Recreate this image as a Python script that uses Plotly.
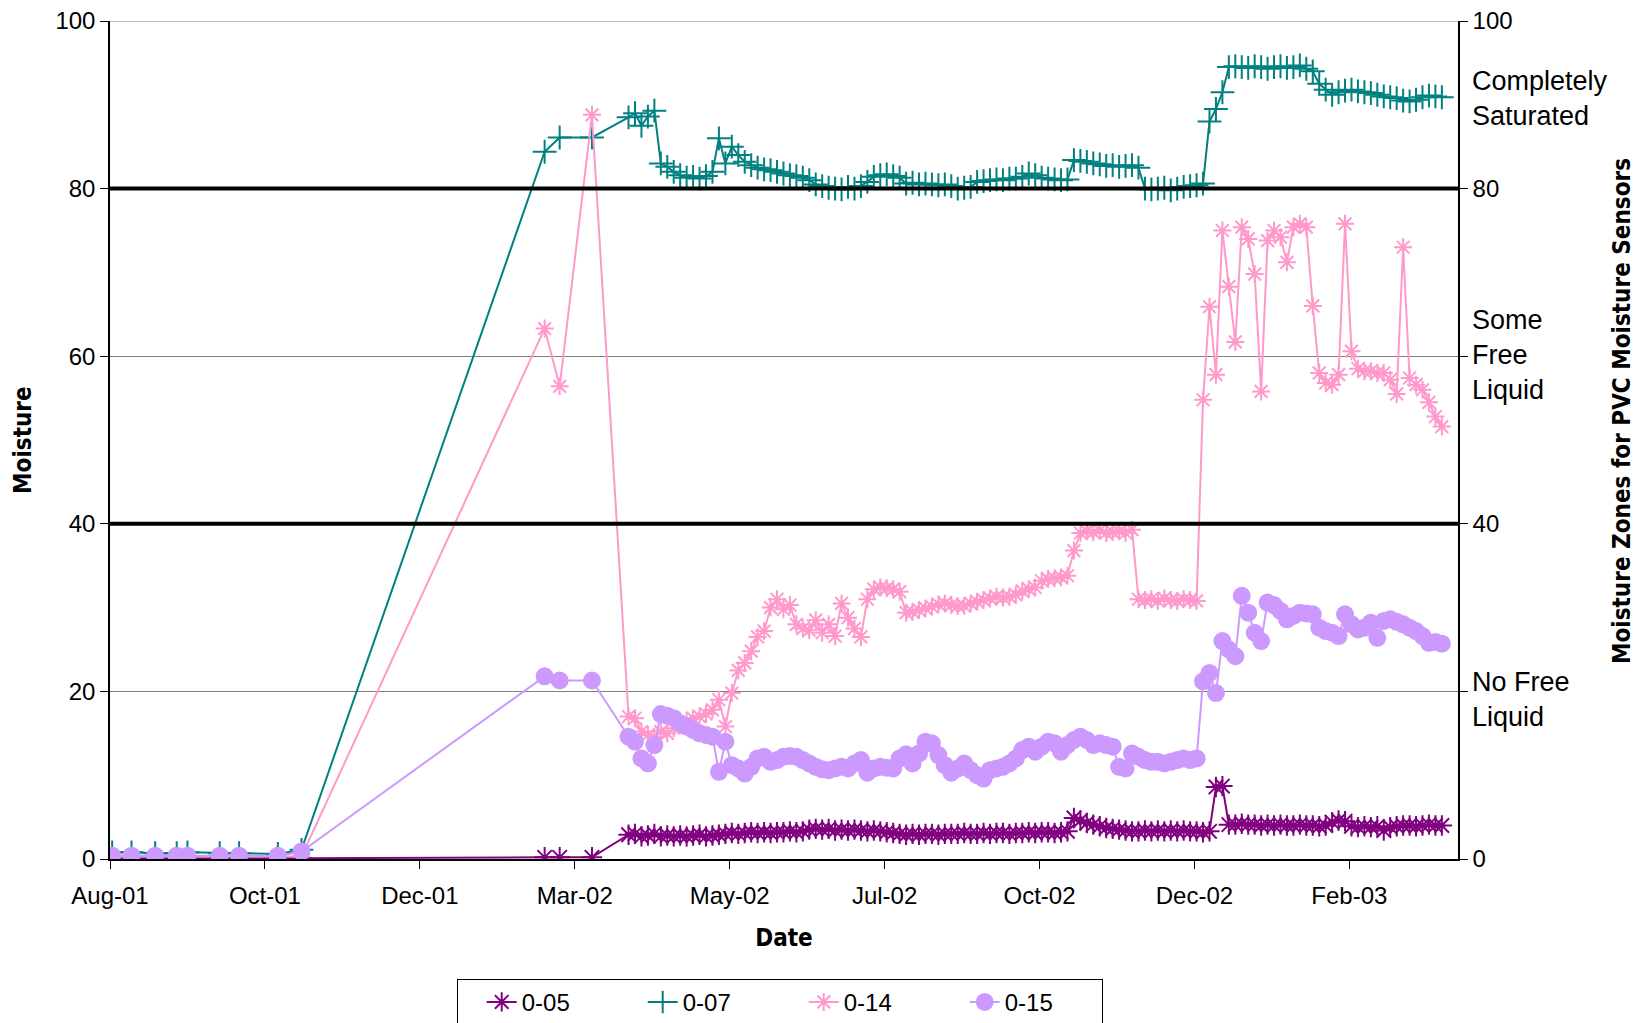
import pandas as pd
import plotly.graph_objects as go

# sparse readings before the loggers went continuous
early_dates = ["2001-08-02", "2001-08-11", "2001-08-22", "2001-09-01", "2001-09-06",
               "2001-09-21", "2001-09-30", "2001-10-18", "2001-10-29",
               "2002-02-19", "2002-02-26", "2002-03-13"]

# continuous logging from here, one reading kept every 3 days
dense_start = "2002-03-30"
dense_step = "3D"

sensors = ["0-05", "0-07", "0-14", "0-15"]

s05_early = [0.1, 0.1, 0.1, 0.1, 0.1, 0.1, 0.1, 0.1, 0.1, 0.2, 0.2, 0.2]
s05_dense = [
    2.9, 3.0, 2.7, 2.8, 3.0, 2.7, 2.8, 2.7, 2.8, 2.7, 2.8, 2.9, 2.7, 2.8,
    2.9, 3.0, 3.1, 3.0, 3.1, 3.2, 3.1, 3.2, 3.1, 3.2, 3.2, 3.3, 3.2, 3.3,
    3.5, 3.6, 3.5, 3.6, 3.4, 3.5, 3.4, 3.5, 3.4, 3.3, 3.4, 3.3, 3.2, 3.1,
    3.0, 2.9, 3.0, 2.9, 3.0, 3.0, 2.9, 3.0, 3.0, 3.0, 3.1, 3.0, 3.0, 3.1,
    3.0, 3.1, 3.1, 3.0, 3.1, 3.1, 3.2, 3.1, 3.2, 3.2, 3.1, 3.2, 3.3,
    4.9, 4.6, 4.3, 4.1, 3.9, 3.7, 3.6, 3.5, 3.4, 3.3, 3.3,
    3.4, 3.3, 3.4, 3.3, 3.4, 3.3, 3.4, 3.3, 3.3, 3.2, 3.3, 8.6, 8.7,
    4.1, 4.1, 4.2, 4.1, 4.1, 4.0, 4.1, 4.0, 4.1, 4.0, 4.0, 4.1, 4.0, 4.0,
    3.9, 4.0, 4.4, 4.6, 4.5, 3.9, 3.8, 3.9, 3.8, 3.9, 3.4, 3.8, 3.9, 4.0,
    4.0, 3.9, 4.0, 4.1, 4.0, 4.0,
]

s07_early = [0.8, 0.8, 0.7, 0.7, 0.8, 0.7, 0.7, 0.6, 1.1, 84.4, 86.1, 86.1]
s07_dense = [
    88.5, 89.0, 87.5, 88.6, 89.3, 83.0, 82.6, 82.0, 81.6, 81.3, 81.4, 81.2, 81.5, 82.0,
    86.0, 83.0, 85.0, 84.0, 83.2, 82.8, 82.5, 82.3, 82.2, 82.0, 81.8, 81.6, 81.5, 81.3,
    81.0, 80.5, 80.3, 80.1, 80.0, 79.9, 80.2, 80.0, 80.3, 80.8, 81.4, 81.6, 81.7, 81.5,
    81.3, 80.6, 80.7, 80.5, 80.6, 80.5, 80.4, 80.5, 80.3, 80.0, 80.1, 80.2, 80.8, 80.9,
    81.0, 81.1, 81.0, 81.2, 81.2, 81.4, 81.8, 81.6, 81.3, 81.2, 81.1, 81.0, 81.1,
    83.4, 83.3, 83.2, 83.0, 82.9, 82.7, 82.8, 82.6, 82.7, 82.8, 82.5,
    80.0, 79.9, 80.0, 80.1, 79.8, 80.0, 80.2, 80.3, 80.4, 80.6, 88.0, 89.5, 91.5,
    94.5, 94.6, 94.5, 94.4, 94.6, 94.5, 94.3, 94.5, 94.6, 94.4, 94.5, 94.7, 94.3, 94.0,
    92.5, 91.8, 91.2, 91.5, 91.7, 91.8, 91.6, 91.5, 91.4, 91.2, 91.0, 90.9, 90.8, 90.5,
    90.4, 90.6, 90.9, 91.1, 91.0, 90.9,
]

s14_early = [0.3, 0.3, 0.3, 0.3, 0.3, 0.3, 0.3, 0.3, 0.3, 63.3, 56.4, 88.8]
s14_dense = [
    17.0, 16.8, 15.2, 14.8, 14.6, 15.2, 15.0, 15.6, 16.0, 16.5, 16.8, 17.0, 17.3, 17.8,
    19.0, 15.8, 19.8, 22.5, 23.4, 24.8, 26.5, 27.2, 30.0, 31.0, 29.8, 30.3, 28.0, 27.5,
    27.3, 28.5, 27.0, 28.0, 26.6, 30.5, 28.8, 27.5, 26.5, 31.0, 32.2, 32.4, 32.3, 32.2,
    31.9, 29.4, 29.5, 29.7, 29.9, 30.1, 30.4, 30.5, 30.3, 30.2, 30.2, 30.5, 30.7, 30.9,
    31.1, 31.3, 31.2, 31.3, 31.5, 32.0, 32.2, 32.4, 33.2, 33.4, 33.5, 33.6, 33.8,
    36.8, 38.9, 39.1, 39.0, 39.2, 38.9, 39.0, 39.1, 38.9, 39.3, 31.0,
    30.9, 31.0, 30.8, 31.1, 30.9, 30.8, 31.0, 30.9, 30.8, 54.8, 65.9, 57.8, 75.0,
    68.3, 61.7, 75.4, 74.0, 69.8, 55.8, 73.8, 75.0, 74.2, 71.2, 75.4, 75.8, 75.4, 66.0,
    58.0, 56.8, 56.6, 57.8, 75.8, 60.6, 58.5, 58.2, 58.2, 58.0, 58.0, 57.2, 55.5, 73.0,
    57.4, 56.6, 56.0, 54.5, 52.8, 51.6,
]

s15_early = [0.4, 0.4, 0.4, 0.4, 0.4, 0.4, 0.4, 0.4, 0.9, 21.8, 21.3, 21.3]
s15_dense = [
    14.6, 14.0, 12.0, 11.4, 13.6, 17.3, 17.1, 16.8, 16.2, 15.8, 15.4, 15.0, 14.8, 14.6,
    10.4, 14.0, 11.2, 10.8, 10.2, 11.0, 12.0, 12.2, 11.6, 11.8, 12.2, 12.3, 12.2, 11.8,
    11.4, 11.0, 10.7, 10.6, 10.8, 11.0, 10.8, 11.4, 11.8, 10.3, 10.8, 11.0, 10.9, 10.8,
    12.0, 12.5, 11.4, 12.6, 14.0, 13.8, 12.4, 11.2, 10.3, 10.8, 11.4, 10.6, 10.0, 9.6,
    10.6, 10.8, 11.0, 11.4, 12.0, 13.0, 13.4, 12.8, 13.4, 14.0, 13.8, 12.8, 13.6,
    14.2, 14.6, 14.2, 13.6, 13.8, 13.6, 13.4, 11.0, 10.8, 12.6, 12.2,
    11.8, 11.6, 11.6, 11.4, 11.6, 11.8, 12.0, 11.8, 12.0, 21.2, 22.2, 19.8, 26.0,
    25.0, 24.2, 31.4, 29.4, 27.0, 26.0, 30.6, 30.3, 29.6, 28.6, 29.0, 29.4, 29.3, 29.2,
    27.6, 27.2, 27.0, 26.6, 29.2, 28.0, 27.4, 27.6, 28.2, 26.4, 28.4, 28.6, 28.3, 28.0,
    27.6, 27.2, 26.6, 25.8, 25.9, 25.7,
]

# Excel-style date axis: a label every 72 days from Aug-01
date_ticks = ["2001-08-01", "2001-10-12", "2001-12-23", "2002-03-05", "2002-05-16",
              "2002-07-27", "2002-10-07", "2002-12-18", "2003-02-28"]
x_range = ["2001-08-01", "2003-04-19 12:00"]

# moisture zone boundaries and the right-hand zone axis
zone_bounds = [40, 80]
zone_ticks = [0, 20, 40, 60, 80, 100]
zone_numbered = [0, 40, 80, 100]
zone_labels = ["No Free<br>Liquid", "Some<br>Free<br>Liquid", "Completely<br>Saturated"]
zone_label_at = [19.0, 60.2, 90.7]

FONT = "Liberation Sans, Arial, sans-serif"
TITLE_FONT = "Liberation Sans Narrow, Arial Narrow, DejaVu Sans Condensed, Liberation Sans"

series = {
    "0-05": s05_early + s05_dense,
    "0-07": s07_early + s07_dense,
    "0-14": s14_early + s14_dense,
    "0-15": s15_early + s15_dense,
}
dense_dates = pd.date_range(dense_start, periods=len(s05_dense), freq=dense_step)
dates = pd.to_datetime(early_dates).append(dense_dates)
for name, vals in series.items():
    assert len(vals) == len(dates), name

zone_text = [str(t) if t in zone_numbered else "" for t in zone_ticks]

styles = {
    "0-05": dict(color="#800080", symbol="asterisk-open", size=17),
    "0-07": dict(color="#008080", symbol="cross-thin-open", size=17),
    "0-14": dict(color="#FF99CC", symbol="asterisk-open", size=15),
    "0-15": dict(color="#CC99FF", symbol="circle", size=16),
}

fig = go.Figure()
for name in sensors:
    st = styles[name]
    fig.add_trace(go.Scatter(
        x=dates, y=series[name], name=name, mode="lines+markers",
        # last sensor sits on the zone axis (same 0-100 scale) so that axis gets drawn
        yaxis="y2" if name == sensors[-1] else "y",
        line=dict(color=st["color"], width=2),
        marker=dict(symbol=st["symbol"], size=st["size"], color=st["color"],
                    line=dict(color=st["color"], width=2)),
    ))

for yb in zone_bounds:
    fig.add_hline(y=yb, line=dict(color="black", width=4), layer="above")
# top border of the plot area is a plain grey gridline
fig.add_hline(y=max(zone_ticks), line=dict(color="#808080", width=1), layer="below")

fig.update_layout(
    width=1635, height=1023,
    margin=dict(l=110, r=177, t=21, b=164, autoexpand=False),
    paper_bgcolor="white", plot_bgcolor="white",
    font=dict(family=FONT, size=24, color="black"),
    showlegend=True,
    legend=dict(
        orientation="h", x=0.2572, xanchor="left", y=-0.143, yanchor="top",
        bordercolor="black", borderwidth=1, bgcolor="white", indentation=24,
        font=dict(size=24), entrywidth=92, entrywidthmode="pixels",
    ),
    xaxis=dict(
        type="date", range=x_range, tickvals=date_ticks, tickformat="%b-%y",
        showgrid=False, showline=True, linecolor="black", linewidth=1.5,
        ticks="outside", ticklen=8, tickcolor="black", ticklabelstandoff=6,
        title=dict(text="<b>Date</b>", standoff=22,
                   font=dict(family=TITLE_FONT, size=24)),
        automargin=False,
    ),
    yaxis=dict(
        range=[0, 100], dtick=20, showgrid=True, gridcolor="#808080", gridwidth=1,
        zeroline=False, showline=True, linecolor="black", linewidth=1.5,
        ticks="outside", ticklen=8, tickcolor="black", ticklabeloverflow="allow",
        automargin=False,
    ),
    yaxis2=dict(
        overlaying="y", side="right", range=[0, 100],
        tickvals=zone_ticks, ticktext=zone_text, showgrid=False, zeroline=False,
        showline=True, linecolor="black", linewidth=1.5,
        ticks="outside", ticklen=8, tickcolor="black", ticklabeloverflow="allow",
        automargin=False,
    ),
)

# axis titles placed by hand to sit where the original has them
fig.add_annotation(
    text="<b>Moisture</b>", xref="paper", yref="paper", x=-0.0646, y=0.5,
    textangle=-90, showarrow=False, xanchor="center", yanchor="middle",
    font=dict(family=TITLE_FONT, size=24),
)
fig.add_annotation(
    text="<b>Moisture Zones for PVC Moisture Sensors</b>", xref="paper", yref="paper",
    x=1.1212, y=0.535, textangle=-90, showarrow=False, xanchor="center",
    yanchor="middle", font=dict(family=TITLE_FONT, size=24),
)

for label, at in zip(zone_labels, zone_label_at):
    fig.add_annotation(
        text=label, xref="paper", yref="y", x=1.009, y=at,
        xanchor="left", yanchor="middle", align="left", showarrow=False,
        font=dict(family=FONT, size=27),
    )

# drop the browser's default body margin so the chart fills the window exactly
fig.write_html("out.html", config={"displayModeBar": False},
               post_script="document.body.style.margin='0';")
